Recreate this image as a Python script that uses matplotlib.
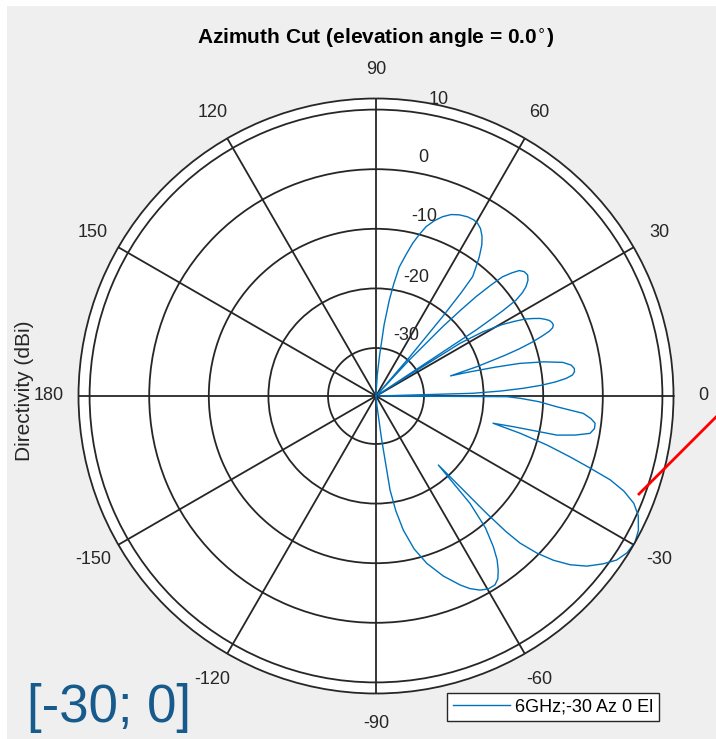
import numpy as np
import matplotlib
matplotlib.use('Agg')
from matplotlib import pyplot as plt
from matplotlib.lines import Line2D
from matplotlib.patches import Rectangle

# azimuth (deg) and directivity (dBi)
az_deg = [180, 150, 120, 95, 88, 87.5, 86.5, 85, 83.5, 82.1, 81, 79.8, 78, 76.5, 75,
          73.5, 71.5, 69.6, 67.5, 65.3, 63, 61, 59.5, 58, 56.4, 55, 53.4, 52.2,
          51, 50.5, 50, 49.2, 48.3,
          47.2, 46.1, 45.4, 44.8, 44, 43.3, 42.2, 41.2, 40, 38.6, 37.3, 36.1,
          35.2, 34.4, 33.9, 33.4, 32.9,
          32.1, 31, 29.5, 28.3, 27.3, 26.2, 25.3, 24.4, 23.5, 22.6, 21.8, 21.1,
          20.5, 19.8, 19.0, 18.2, 17.5, 16.2, 15.1,
          14.5, 13.6, 12.8, 11.5, 10.2, 9.0, 7.9, 7.0, 6.1, 5.3, 4.5, 3.7, 3.0,
          2.3, 1.6, 0.7,
          -0.3, -0.9, -2.0, -3.4, -4.8, -6.0, -7.1, -8.5, -9.9, -11.1, -12.2,
          -12.6, -13.1,
          -14.5, -16.0, -17.4, -18.5, -19.7, -21.0, -22.6, -24.5, -27.1, -29.5,
          -32.0, -34.3, -36.5, -38.9, -41.0, -42.8, -44.3, -45.6, -46.2, -46.7,
          -47.4, -47.9,
          -48.8, -50.3, -52.1, -53.5, -54.9, -56.3, -57.8, -59.8, -61.8, -64.0,
          -66.0, -69.5, -73.1, -76.0, -78.5, -80.2, -81.5, -82.6, -84.5, -88,
          -120, -150, -180]
directivity = [-38.05, -38.05, -38.05, -38.05, -38.05, -37.2, -34.5, -31.3, -26.0,
               -21.8, -19.0, -16.1, -13.8, -11.7, -10.0, -8.4, -7.0, -5.95, -5.1,
               -4.6, -4.3, -4.25, -4.45, -4.95, -5.9, -7.1, -9.0, -10.7, -12.3,
               -15.5, -20.7, -29.7, -37.6,
               -29.7, -21.9, -17.8, -14.4, -11.3, -8.9, -7.3, -6.1, -5.6, -5.5,
               -6.0, -6.9, -8.0, -9.6, -12.5, -17.9, -37.6,
               -21.4, -17.2, -13.7, -11.6, -9.9, -8.6, -7.6, -6.9, -6.3, -6.05,
               -6.0, -6.3, -7.0, -8.5, -10.4, -12.8, -15.4, -20.4, -25.1,
               -22.1, -17.5, -13.4, -9.3, -6.2, -4.9, -4.46, -4.5, -4.9, -6.0,
               -7.8, -10.3, -13.3, -17.0, -21.8, -37.6,
               -16.1, -13.9, -10.7, -7.7, -3.15, -1.8, -1.0, -1.0, -1.6, -4.0,
               -7.0, -14.4, -17.9,
               -13.05, -8.2, -4.0, -0.5, 3.7, 6.5, 8.8, 10.3, 11.4, 11.86, 11.6,
               10.8, 9.3, 7.4, 5.1, 2.5, -0.3, -3.5, -6.5, -11.0, -18.9, -22.45,
               -14.1, -9.3, -6.0, -3.9, -2.4, -1.2, -0.6, -0.6, -1.1, -2.1, -3.35,
               -5.8, -8.7, -11.6, -15.1, -18.5, -22.1, -30.7, -36.4, -38.05,
               -38.05, -38.05, -38.05]

r_min, r_max = -38.05, 11.86
r_ticks = [-30, -20, -10, 0, 10]
theta_ticks = [0, 30, 60, 90, 120, 150, 180, -150, -120, -90, -60, -30]
series_name = '6GHz;-30 Az 0 El'

W, H = 716, 739
plt.rcParams['font.family'] = ['Liberation Sans', 'DejaVu Sans']

fig = plt.figure(figsize=(W / 100, H / 100), dpi=100, facecolor='white')
fig.add_artist(Rectangle((7 / W, 0), 1, 1 - 6 / H, transform=fig.transFigure,
                         facecolor='#efefef', edgecolor='none', zorder=-10))

cx, cy, R = 376, 396, 297.5
ax = fig.add_axes([(cx - R) / W, (H - cy - R) / H, 2 * R / W, 2 * R / H],
                  projection='polar')
ax.set_facecolor('white')

line, = ax.plot(np.deg2rad(az_deg), directivity, color='#0072BD', lw=1.0,
                label=series_name)

ax.set_ylim(r_min, r_max)
ax.set_yticks(r_ticks)
ax.set_yticklabels([])
ax.set_xticks(np.deg2rad([t % 360 for t in theta_ticks]))
ax.set_xticklabels([])
ax.grid(True, color='#262626', lw=1.3)
ax.spines['polar'].set_color('#262626')
ax.spines['polar'].set_linewidth(1.3)
ax.tick_params(length=0)

# angle labels outside the outer ring
lab_r = 327 / (2 * R)
for t in theta_ticks:
    a = np.deg2rad(t)
    ax.text(0.5 + lab_r * np.cos(a), 0.5 + lab_r * np.sin(a), str(t),
            transform=ax.transAxes, ha='center', va='center', fontsize=13,
            color='#262626')

# magnitude labels
r_lab_off = [(30, 61), (40, 119), (48.3, 179.3), (47.3, 238.7), (62.3, 297)]
for v, (dx, dy) in zip(r_ticks, r_lab_off):
    ax.text(0.5 + dx / (2 * R), 0.5 + dy / (2 * R), str(v), transform=ax.transAxes,
            ha='center', va='center', fontsize=13, color='#262626')

fig.text(376 / W, 1 - 38 / H, r'Azimuth Cut (elevation angle = 0.0$^{\circ}$)',
         ha='center', va='center', fontsize=15, fontweight='bold', color='#000000')
fig.text(25 / W, 1 - 391 / H, 'Directivity (dBi)', rotation=90, ha='center',
         va='center', fontsize=15, color='#262626')

leg = fig.legend(handles=[line], loc='upper left',
                 bbox_to_anchor=(447.3 / W, 1 - 692.7 / H), borderaxespad=0,
                 fancybox=False, framealpha=1, edgecolor='#262626', fontsize=13,
                 handlelength=3.2, handletextpad=0.25, borderpad=0.3)
leg.get_frame().set_linewidth(1.0)

fig.text(27 / W, 1 - 722 / H, '[-30; 0]', ha='left', va='baseline',
         fontsize=38, color='#175a8c')

fig.add_artist(Line2D([639 / W, 722 / W], [1 - 494 / H, 1 - 411 / H],
                      transform=fig.transFigure, color='red', lw=2.0))

fig.savefig('out.png', dpi=100, facecolor=fig.get_facecolor())
